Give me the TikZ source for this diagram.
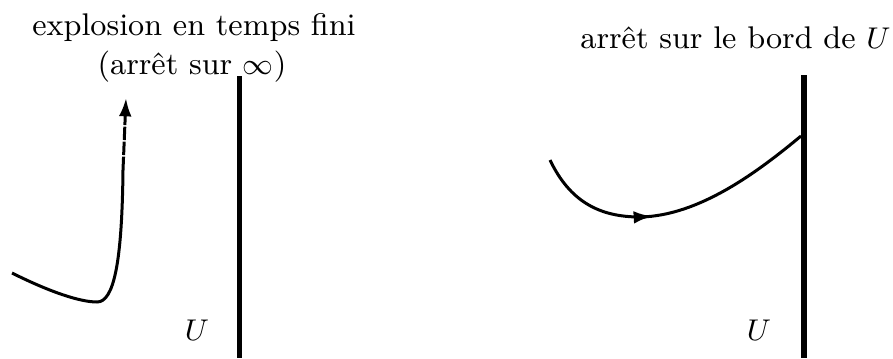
\documentclass[tikz,border=0pt]{standalone}
\usetikzlibrary{decorations.markings,arrows.meta}
\begin{document}
\begin{tikzpicture}[x=0.3pt,y=-0.3pt,
  lbl/.style={inner sep=0pt,anchor=base,font=\fontsize{9.4}{11.3}\selectfont},
  traj/.style={line width=0.9pt},
  bar/.style={line width=1.7pt},
  tip/.style={-{Latex[length=5.5pt,width=3.8pt]}}]
\useasboundingbox (0,0) rectangle (893,358);
% left panel
\node[lbl] (t1) at (194,35) {explosion en temps fini};
\node[lbl] (t2) at (192,75) {(arrêt sur $\infty$)};
\coordinate (b1top) at (239.5,76);
\coordinate (b1bot) at (239.5,358);
\draw[bar] (b1top) -- (b1bot);
\node[lbl] (u1) at (197,340) {$U$};
\coordinate (a0) at (12,273);
\coordinate (a1) at (97,302);
\coordinate (a2) at (123,170);
\coordinate (a3) at (126,98);
\draw[traj] (a0) .. controls (50,292) and (80,302) .. (a1)
  .. controls (114,302) and (122,262) .. (a2);
\draw[traj,dash pattern=on 4pt off 0.5pt,tip] (a2) -- (a3);
% right panel
\node[lbl] (t3) at (735.5,48) {arrêt sur le bord de $U$};
\coordinate (b2top) at (804,75);
\coordinate (b2bot) at (804,358);
\draw[bar] (b2top) -- (b2bot);
\node[lbl] (u2) at (759,340) {$U$};
\coordinate (c0) at (550,160);
\coordinate (c1) at (640,217);
\coordinate (c2) at (801,136);
\draw[traj] (c0) .. controls (570,202) and (600,217) .. (c1)
  .. controls (700,216) and (760,170) .. (c2);
\coordinate (m0) at (647,216.6);
\coordinate (m1) at (652,216.3);
\draw[traj,tip] (m0) -- (m1);
\end{tikzpicture}
\end{document}
